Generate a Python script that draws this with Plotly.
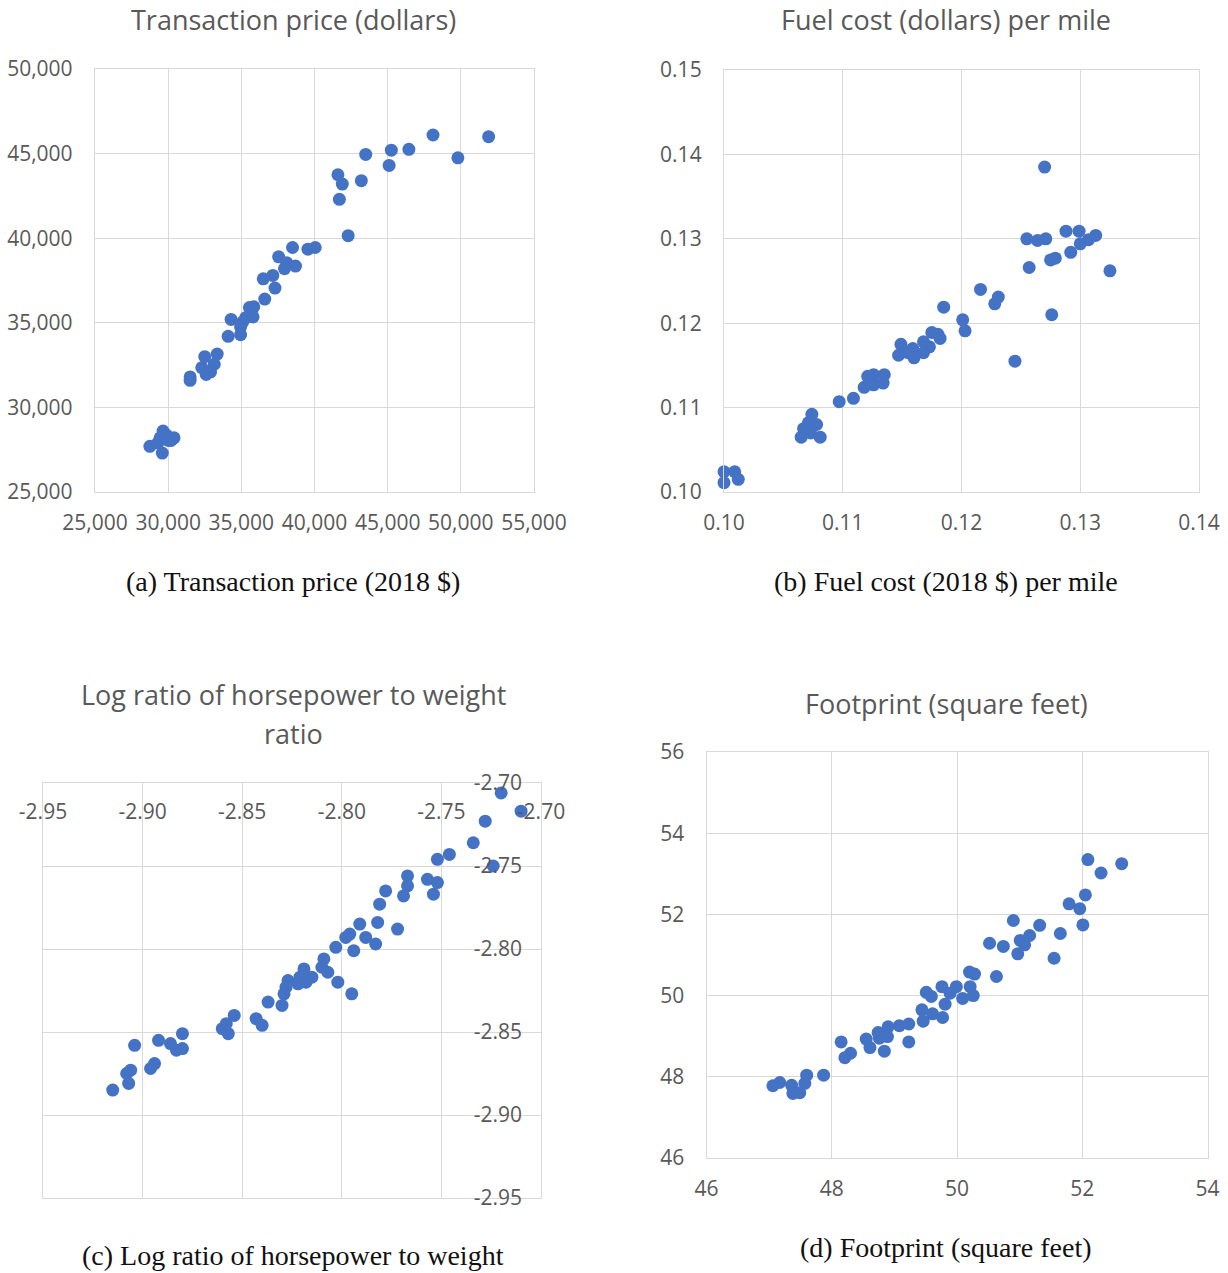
import plotly.graph_objects as go

W, H = 1228, 1273

# ---------------- data ----------------
price_x = [51900, 48100, 49800, 46450, 45250, 45100, 43500, 43200, 41600, 41900,
           41700, 42300, 40050, 39550, 38500, 37550, 38100, 38700, 37950, 37150,
           36500, 37300, 36600, 35550, 35850, 35800, 35300, 35100, 34300, 34950,
           34100, 34950, 33350, 32500, 33150, 32300, 32900, 32600, 31500, 31500,
           29650, 30400, 30200, 28750, 29300, 29600, 29900, 29450, 30000]
price_y = [46000, 46100, 44750, 45250, 45200, 44300, 44950, 43400, 43750, 43200,
           42300, 40150, 39450, 39350, 39450, 38900, 38550, 38350, 38200, 37800,
           37600, 37050, 36400, 35900, 35950, 35350, 35300, 35050, 35200, 34750,
           34200, 34300, 33150, 33000, 32550, 32350, 32100, 31950, 31800, 31600,
           28600, 28200, 28050, 27700, 27900, 27300, 28350, 28200, 28050]

fuel_x = [0.1270, 0.1255, 0.1264, 0.1271, 0.1288, 0.1299, 0.1300, 0.1307, 0.1313, 0.1292,
          0.1275, 0.1279, 0.1257, 0.1325, 0.1216, 0.1231, 0.1228, 0.1185, 0.1276, 0.1201,
          0.1203, 0.1245, 0.1175, 0.1180, 0.1182, 0.1173, 0.1168, 0.1168, 0.1159, 0.1160,
          0.1149, 0.1147, 0.1155, 0.1135, 0.1126, 0.1121, 0.1126, 0.1134, 0.1118, 0.1109,
          0.1097, 0.1074, 0.1078, 0.1071, 0.1067, 0.1065, 0.1073, 0.1081, 0.1000, 0.1009,
          0.1000, 0.1012]
fuel_y = [0.1385, 0.1300, 0.1298, 0.1300, 0.1309, 0.1309, 0.1294, 0.1299, 0.1304, 0.1284,
          0.1275, 0.1277, 0.1266, 0.1262, 0.1240, 0.1231, 0.1223, 0.1219, 0.1210, 0.1204,
          0.1191, 0.1155, 0.1189, 0.1187, 0.1182, 0.1172, 0.1178, 0.1165, 0.1170, 0.1159,
          0.1175, 0.1162, 0.1165, 0.1139, 0.1139, 0.1137, 0.1127, 0.1129, 0.1124, 0.1111,
          0.1107, 0.1092, 0.1080, 0.1082, 0.1075, 0.1065, 0.1070, 0.1065, 0.1024, 0.1024,
          0.1011, 0.1015]

hpw_x = [-2.720, -2.710, -2.728, -2.734, -2.746, -2.752, -2.724, -2.767, -2.757, -2.752,
         -2.767, -2.769, -2.754, -2.778, -2.781, -2.782, -2.772, -2.791, -2.788, -2.783,
         -2.796, -2.798, -2.803, -2.794, -2.809, -2.810, -2.807, -2.802, -2.795, -2.819,
         -2.815, -2.821, -2.818, -2.822, -2.827, -2.828, -2.829, -2.830, -2.837, -2.843,
         -2.840, -2.854, -2.858, -2.860, -2.857, -2.880, -2.880, -2.883, -2.886, -2.892,
         -2.904, -2.894, -2.896, -2.906, -2.908, -2.907, -2.915]
hpw_y = [-2.706, -2.717, -2.723, -2.736, -2.743, -2.746, -2.750, -2.756, -2.758, -2.760,
         -2.762, -2.768, -2.767, -2.765, -2.773, -2.784, -2.788, -2.785, -2.793, -2.797,
         -2.791, -2.793, -2.799, -2.801, -2.806, -2.811, -2.814, -2.820, -2.827, -2.812,
         -2.817, -2.817, -2.820, -2.821, -2.819, -2.823, -2.827, -2.834, -2.832, -2.842,
         -2.846, -2.840, -2.845, -2.848, -2.851, -2.851, -2.860, -2.861, -2.857, -2.855,
         -2.858, -2.869, -2.872, -2.873, -2.875, -2.881, -2.885]

foot_x = [52.09, 52.63, 52.30, 52.05, 51.79, 51.96, 52.01, 50.90, 51.32, 51.65,
          51.16, 51.01, 51.08, 50.97, 50.52, 50.74, 51.55, 50.63, 50.20, 50.28,
          49.99, 50.21, 49.76, 49.51, 49.59, 50.09, 50.26, 49.89, 49.81, 49.44,
          49.61, 49.46, 49.77, 49.23, 49.08, 48.90, 48.74, 48.89, 48.76, 48.55,
          48.61, 48.84, 49.23, 48.15, 48.30, 48.21, 47.87, 47.60, 47.57, 47.17,
          47.06, 47.36, 47.38, 47.49]
foot_y = [53.35, 53.25, 53.02, 52.48, 52.26, 52.14, 51.74, 51.85, 51.73, 51.53,
          51.48, 51.36, 51.25, 51.03, 51.29, 51.21, 50.92, 50.47, 50.58, 50.53,
          50.22, 50.22, 50.22, 50.08, 49.98, 49.93, 50.00, 50.06, 49.79, 49.65,
          49.55, 49.37, 49.46, 49.30, 49.26, 49.23, 49.09, 48.99, 48.95, 48.93,
          48.72, 48.63, 48.86, 48.86, 48.58, 48.47, 48.04, 48.04, 47.84, 47.86,
          47.78, 47.79, 47.59, 47.61]

hpw_ticks = [-2.95, -2.90, -2.85, -2.80, -2.75, -2.70]

titles = ["Transaction price (dollars)", "Fuel cost (dollars) per mile",
          "Log ratio of horsepower to weight", "ratio", "Footprint (square feet)"]
captions = ["(a) Transaction price (2018 $)", "(b) Fuel cost (2018 $) per mile",
            "(c) Log ratio of horsepower to weight", "(d) Footprint (square feet)"]

# ---------------- style ----------------
BLUE = "#4472C4"
GRID = "#d9d9d9"
TXT = "#595959"
SANS = "Open Sans, Noto Sans, sans-serif"
SERIF = "Liberation Serif, DejaVu Serif, serif"
TICK = dict(family=SANS, size=21, color=TXT)


def xd(l, r):
    return [l / W, r / W]


def yd(t, b):
    return [1 - b / H, 1 - t / H]


def px(x):
    return x / W


def py(y):
    return 1 - y / H


fig = go.Figure()
series = [(price_x, price_y), (fuel_x, fuel_y), (hpw_x, hpw_y), (foot_x, foot_y)]
for i, (xs, ys) in enumerate(series):
    sfx = "" if i == 0 else str(i + 1)
    fig.add_trace(go.Scatter(x=xs, y=ys, mode="markers", xaxis="x" + sfx, yaxis="y" + sfx,
                             marker=dict(color=BLUE, size=13, line=dict(width=0)),
                             cliponaxis=False, showlegend=False, hoverinfo="x+y"))

common = dict(showgrid=True, gridcolor=GRID, gridwidth=1.3, showline=True, linecolor=GRID,
              linewidth=1.3, mirror=True, zeroline=False, ticks="", tickfont=TICK,
              fixedrange=True, automargin=False)

# labels with a plain hyphen-minus, as in the reference
hpw_alias = {("\u2212%.2f" % abs(v)): ("%.2f" % v) for v in hpw_ticks}

layout = dict(
    width=W, height=H, margin=dict(l=0, r=0, t=0, b=0, autoexpand=False),
    paper_bgcolor="white", plot_bgcolor="white", showlegend=False,
    xaxis=dict(domain=xd(95, 534), anchor="y", range=[25000, 55000], dtick=5000,
               tickformat=",d", ticklabelstandoff=12, **common),
    yaxis=dict(domain=yd(69, 492), anchor="x", range=[25000, 50000], dtick=5000,
               tickformat=",d", ticklabelstandoff=17, **common),
    xaxis2=dict(domain=xd(724, 1199), anchor="y2", range=[0.10, 0.14], dtick=0.01,
                tickformat=".2f", ticklabelstandoff=12, **common),
    yaxis2=dict(domain=yd(70, 492), anchor="x2", range=[0.10, 0.15], dtick=0.01,
                tickformat=".2f", ticklabelstandoff=17, **common),
    xaxis3=dict(domain=xd(43, 541), anchor="y3", range=[-2.95, -2.70],
                tickmode="array", tickvals=hpw_ticks, tickformat=".2f", labelalias=hpw_alias,
                side="top", ticklabelposition="inside",
                ticklabeloverflow="allow", ticklabelstandoff=22, **common),
    yaxis3=dict(domain=yd(783, 1198), anchor="x3", range=[-2.95, -2.70],
                tickmode="array", tickvals=hpw_ticks, tickformat=".2f", labelalias=hpw_alias,
                side="right", ticklabelposition="inside",
                ticklabeloverflow="allow", ticklabelstandoff=20, **common),
    xaxis4=dict(domain=xd(706.5, 1207.5), anchor="y4", range=[46, 54], dtick=2,
                tickformat="d", ticklabelstandoff=12, **common),
    yaxis4=dict(domain=yd(752, 1158), anchor="x4", range=[46, 56], dtick=2,
                tickformat="d", ticklabelstandoff=17, **common),
)
fig.update_layout(**layout)

title_pos = [(293, 20), (946, 20), (293, 695), (293, 733), (946, 703)]
cap_pos = [(293, 581), (946, 581), (293, 1255), (946, 1247)]
for (t, (tx, ty)) in zip(titles, title_pos):
    fig.add_annotation(text=t, x=px(tx), y=py(ty), xref="paper", yref="paper",
                       xanchor="center", yanchor="middle", showarrow=False,
                       font=dict(family=SANS, size=27, color=TXT))
for (c, (cx, cy)) in zip(captions, cap_pos):
    fig.add_annotation(text=c, x=px(cx), y=py(cy), xref="paper", yref="paper",
                       xanchor="center", yanchor="middle", showarrow=False,
                       font=dict(family=SERIF, size=28, color="#111111"))

# the page's default 8 px body margin would shift the whole figure; remove it
fig.write_html("out.html", config={"displayModeBar": False},
               post_script="document.body.style.margin='0';")
